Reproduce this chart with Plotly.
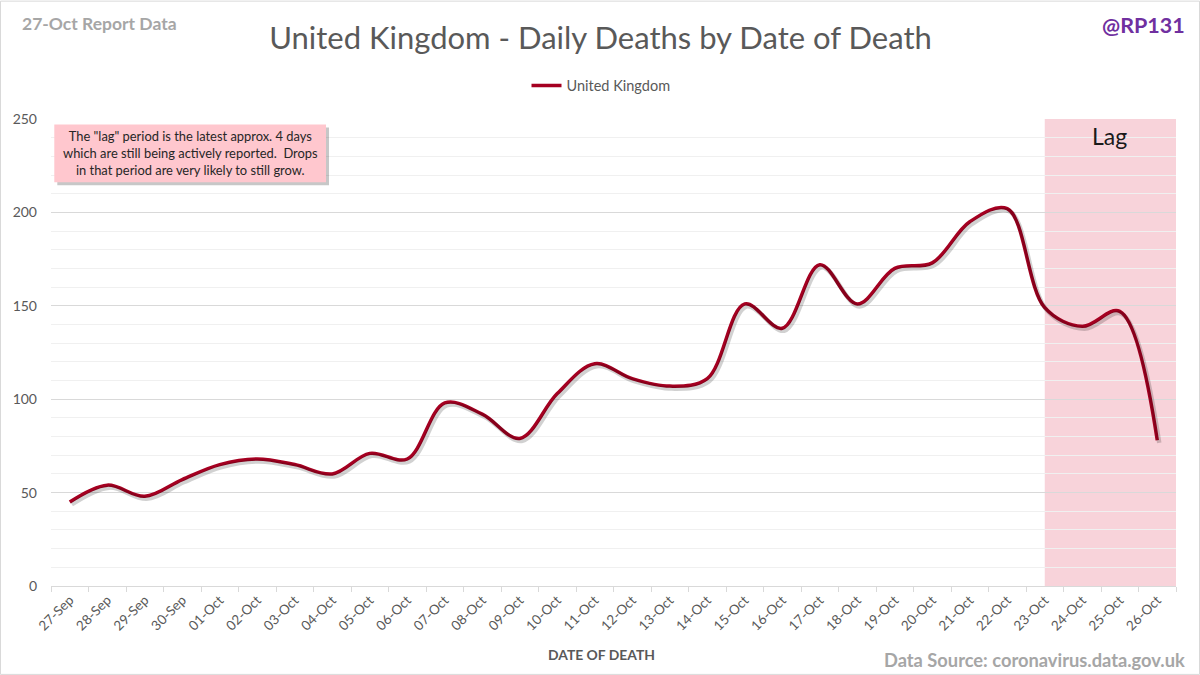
import plotly.graph_objects as go

dates = ["27-Sep", "28-Sep", "29-Sep", "30-Sep", "01-Oct", "02-Oct", "03-Oct", "04-Oct",
         "05-Oct", "06-Oct", "07-Oct", "08-Oct", "09-Oct", "10-Oct", "11-Oct", "12-Oct",
         "13-Oct", "14-Oct", "15-Oct", "16-Oct", "17-Oct", "18-Oct", "19-Oct", "20-Oct",
         "21-Oct", "22-Oct", "23-Oct", "24-Oct", "25-Oct", "26-Oct"]
deaths = [45, 54, 48, 57, 65, 68, 65, 60, 71, 68, 98, 92, 79, 103, 119, 111,
          107, 111, 151, 138, 172, 151, 170, 173, 195, 202, 149, 139, 147, 78]
series_name = "United Kingdom"
lag_start = "23-Oct"
y_ticks = [0, 50, 100, 150, 200, 250]

FONT = "Lato"
W, H = 1200, 675
ML, MR, MT, MB = 51, 24, 118.5, 89
PW, PH = W - ML - MR, H - MT - MB

def px(x):
    return (x - ML) / PW

def py(y):
    return (H - MB - y) / PH

n = len(dates)
xr = [-0.5, n - 0.5]
yr = [0, 250]
cat_w = PW / n
unit_h = PH / (yr[1] - yr[0])

fig = go.Figure()

# soft drop shadow of the line (same data on slightly shifted overlay axes)
fig.add_trace(go.Scatter(
    x=dates, y=deaths, mode="lines", line=dict(color="rgba(0,0,0,0.18)", width=4.5,
                                              shape="spline", smoothing=1.0),
    xaxis="x2", yaxis="y2", showlegend=False, hoverinfo="skip"))

fig.add_trace(go.Scatter(
    x=dates, y=deaths, mode="lines", name=series_name,
    line=dict(color="#A50021", width=3.5, shape="spline", smoothing=1.0)))

lag_idx = dates.index(lag_start)
fig.add_shape(type="rect", xref="x", yref="y", x0=lag_idx, x1=n - 0.5, y0=0, y1=250,
              fillcolor="#F8D3DA", line=dict(width=0), layer="below")

# note box with shadow
bx0, bx1, by0, by1 = 54.3, 326, 124, 181.7
fig.add_shape(type="rect", xref="paper", yref="paper",
              x0=px(bx0 + 3), x1=px(bx1 + 3), y0=py(by1 + 3), y1=py(by0 + 3),
              fillcolor="rgba(0,0,0,0.22)", line=dict(width=0))
fig.add_shape(type="rect", xref="paper", yref="paper",
              x0=px(bx0), x1=px(bx1), y0=py(by1), y1=py(by0),
              fillcolor="#FFC7CE", line=dict(width=0))
fig.add_annotation(xref="paper", yref="paper", x=px((bx0 + bx1) / 2), y=py((by0 + by1) / 2),
                   text='The "lag" period is the latest approx. 4 days<br>which are still being actively reported.  Drops<br>in that period are very likely to still grow.',
                   showarrow=False, font=dict(family=FONT, size=12.9, color="#262626"),
                   align="center", xanchor="center", yanchor="middle")

fig.add_annotation(xref="paper", yref="paper", x=px(1109), y=py(136), text="Lag",
                   showarrow=False, font=dict(family=FONT, size=23, color="#1a1a1a"),
                   xanchor="center", yanchor="middle")

# outer border
fig.add_shape(type="rect", xref="paper", yref="paper",
              x0=px(0.5), x1=px(W - 0.5), y0=py(H - 0.5), y1=py(0.5),
              line=dict(color="#D9D9D9", width=1), fillcolor="rgba(0,0,0,0)")

fig.add_annotation(xref="paper", yref="paper", x=px(20), y=py(23), text="<b>27-Oct Report Data</b>",
                   showarrow=False, font=dict(family=FONT, size=17.5, color="#A6A6A6"),
                   xanchor="left", yanchor="middle")
fig.add_annotation(xref="paper", yref="paper", x=px(1187), y=py(24), text="<b>@RP131</b>",
                   showarrow=False, font=dict(family=FONT, size=21.5, color="#7030A0"),
                   xanchor="right", yanchor="middle")
fig.add_annotation(xref="paper", yref="paper", x=px(1187), y=py(660),
                   text="<b>Data Source: coronavirus.data.gov.uk</b>",
                   showarrow=False, font=dict(family=FONT, size=18.3, color="#A6A6A6"),
                   xanchor="right", yanchor="middle")
fig.add_annotation(xref="paper", yref="paper", x=px(601), y=py(655),
                   text="<b>DATE OF DEATH</b>",
                   showarrow=False, font=dict(family=FONT, size=13.9, color="#595959"),
                   xanchor="center", yanchor="middle")

fig.update_layout(
    width=W, height=H,
    margin=dict(l=ML, r=MR, t=MT, b=MB),
    paper_bgcolor="white", plot_bgcolor="rgba(0,0,0,0)",
    title=dict(text="United Kingdom - Daily Deaths by Date of Death", x=600.5 / W, xref="container",
               xanchor="center", y=1 - 38 / H, yanchor="middle",
               font=dict(family=FONT, size=31, color="#595959")),
    legend=dict(orientation="h", x=px(601), xanchor="center", y=py(85), yanchor="middle",
                font=dict(family=FONT, size=14.5, color="#595959"), bgcolor="rgba(0,0,0,0)"),
    font=dict(family=FONT),
    xaxis=dict(type="category", categoryorder="array", categoryarray=dates, range=xr,
               tickangle=-45, tickfont=dict(family=FONT, size=13.5, color="#595959"),
               showgrid=False, showline=True, linecolor="#D9D9D9", linewidth=1,
               ticks="outside", tickson="boundaries", ticklen=5, tickcolor="#D9D9D9",
               zeroline=False, fixedrange=True),
    yaxis=dict(range=yr, tickvals=y_ticks, tickfont=dict(family=FONT, size=14, color="#595959"),
               showgrid=True, gridcolor="#D9D9D9", gridwidth=1,
               minor=dict(dtick=10, showgrid=True, gridcolor="#F0F0F0", gridwidth=1),
               zeroline=False, showline=False, ticks="", ticklabelstandoff=13),
    xaxis2=dict(type="category", categoryorder="array", categoryarray=dates,
                range=[xr[0] - 2 / cat_w, xr[1] - 2 / cat_w], overlaying="x", visible=False),
    yaxis2=dict(range=[yr[0] + 2.5 / unit_h, yr[1] + 2.5 / unit_h], overlaying="y", visible=False),
    showlegend=True,
)

fig.write_html("out.html", config={"displayModeBar": False},
               post_script="document.body.style.margin='0';document.body.style.overflow='hidden';")
